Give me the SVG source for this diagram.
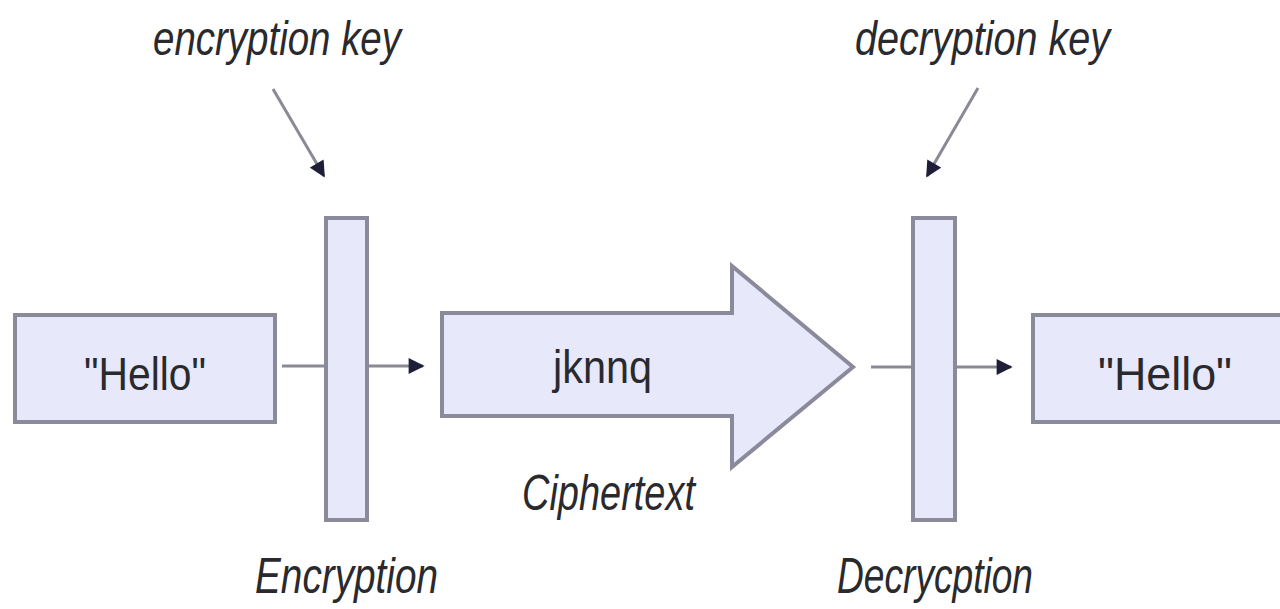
<svg xmlns="http://www.w3.org/2000/svg" width="1280" height="609" viewBox="0 0 1280 609">
<defs>
<style>
.box{fill:#e8e8fb;stroke:#8a8a9a;stroke-width:4}
.conn{stroke:#8a8a96;stroke-width:3;fill:none}
.lbl{font-family:"Liberation Sans",Arial,sans-serif;fill:#2a2a2e}
.it{font-style:italic}
</style>
<marker id="ah2" viewBox="0 0 10 10" refX="9" refY="5" markerWidth="18" markerHeight="16" markerUnits="userSpaceOnUse" orient="auto">
<path d="M0,0 L10,5 L0,10 z" fill="#1e1e38"/>
</marker>
</defs>
<rect width="1280" height="609" fill="#ffffff"/>
<g id="connectors">
<line class="conn" x1="282" y1="366" x2="325" y2="366"/>
<line class="conn" x1="368" y1="366" x2="423" y2="366" marker-end="url(#ah2)"/>
<line class="conn" x1="871" y1="367" x2="912" y2="367"/>
<line class="conn" x1="957" y1="367" x2="1011" y2="367" marker-end="url(#ah2)"/>
<line class="conn" x1="273" y1="89" x2="324" y2="176" marker-end="url(#ah2)"/>
<line class="conn" x1="978" y1="88" x2="927" y2="176" marker-end="url(#ah2)"/>
</g>
<g id="plain-left">
<rect class="box" x="15" y="315" width="260" height="107"/>
<text class="lbl" x="145" y="390" font-size="46" text-anchor="middle" textLength="122" lengthAdjust="spacingAndGlyphs">"Hello"</text>
</g>
<g id="encryption">
<rect class="box" x="326" y="218" width="41" height="302"/>
<text class="lbl it" x="255" y="593" font-size="50" textLength="183" lengthAdjust="spacingAndGlyphs">Encryption</text>
</g>
<g id="encryption-key">
<text class="lbl it" x="153" y="55" font-size="48" textLength="248" lengthAdjust="spacingAndGlyphs">encryption key</text>
</g>
<g id="ciphertext">
<path class="box" d="M442,313 L732,313 L732,266 L853,367 L732,467 L732,416 L442,416 Z"/>
<text class="lbl" x="553" y="383" font-size="46" textLength="99" lengthAdjust="spacingAndGlyphs">jknnq</text>
<text class="lbl it" x="522" y="510" font-size="50" textLength="173" lengthAdjust="spacingAndGlyphs">Ciphertext</text>
</g>
<g id="decryption">
<rect class="box" x="913" y="218" width="42" height="302"/>
<text class="lbl it" x="837" y="593" font-size="50" textLength="196" lengthAdjust="spacingAndGlyphs">Decrycption</text>
</g>
<g id="decryption-key">
<text class="lbl it" x="855" y="55" font-size="48" textLength="255" lengthAdjust="spacingAndGlyphs">decryption key</text>
</g>
<g id="plain-right">
<rect class="box" x="1033" y="315" width="262" height="107"/>
<text class="lbl" x="1165" y="390" font-size="46" text-anchor="middle" textLength="134" lengthAdjust="spacingAndGlyphs">"Hello"</text>
</g>
</svg>
